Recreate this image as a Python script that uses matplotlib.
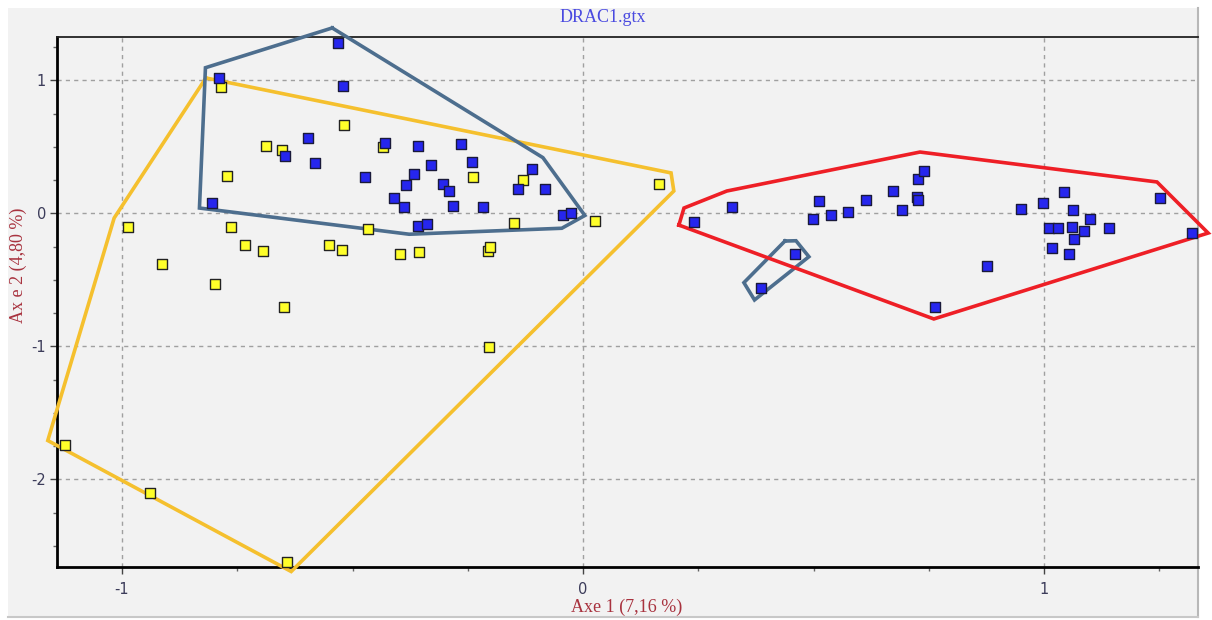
import matplotlib.pyplot as plt
from matplotlib.patches import Rectangle
from matplotlib.ticker import MultipleLocator

plt.rcParams['axes.unicode_minus'] = False

# scores on the first two axes, group A (yellow)
yellow_x = [-0.785, -0.519, -0.688, -0.652, -0.433, -0.773, -0.764, -0.733, -0.694, -0.551,
            -0.522, -0.466, -0.398, -0.356, -0.238, -0.131, -0.150, 0.026, -0.207, -0.202,
            0.165, -0.205, -0.649, -0.799, -0.913, -0.988, -1.124, -0.939, -0.642]
yellow_y = [0.949, 0.668, 0.510, 0.480, 0.502, 0.284, -0.099, -0.237, -0.282, -0.237,
            -0.272, -0.114, -0.302, -0.292, 0.274, 0.250, -0.069, -0.054, -0.282, -0.250,
            0.222, -1.006, -0.701, -0.530, -0.382, -0.102, -1.743, -2.104, -2.623]

# group B (blue)
blue_x = [-0.531, -0.790, -0.521, -0.597, -0.430, -0.646, -0.581, -0.473, -0.805, -0.411,
          -0.359, -0.265, -0.330, -0.241, -0.366, -0.385, -0.304, -0.291, -0.111, -0.140,
          -0.082, -0.388, -0.281, -0.218, -0.359, -0.339, -0.044, -0.026,
          0.241, 0.323, 0.512, 0.499, 0.538, 0.574, 0.613, 0.672, 0.691, 0.724,
          0.727, 0.727, 0.740, 0.460, 0.385, 0.764, 1.043, 0.998, 0.949, 1.063,
          1.099, 1.011, 1.030, 1.060, 1.086, 1.064, 1.142, 1.018, 1.054, 0.877,
          1.252, 1.322]
blue_y = [1.280, 1.021, 0.961, 0.565, 0.532, 0.432, 0.377, 0.272, 0.081, 0.114,
          0.510, 0.523, 0.365, 0.387, 0.295, 0.217, 0.220, 0.169, 0.332, 0.182,
          0.182, 0.047, 0.059, 0.047, -0.092, -0.079, -0.009, 0.004,
          -0.066, 0.047, 0.092, -0.044, -0.011, 0.014, 0.102, 0.171, 0.024, 0.126,
          0.102, 0.259, 0.320, -0.305, -0.562, -0.701, 0.159, 0.081, 0.034, 0.024,
          -0.044, -0.111, -0.111, -0.099, -0.134, -0.192, -0.111, -0.259, -0.305, -0.395,
          0.114, -0.147]

# hand-drawn envelopes
hull_yellow_x = [-0.818, 0.191, 0.197, -0.633, -1.161, -1.017]
hull_yellow_y = [1.019, 0.305, 0.169, -2.692, -1.707, -0.034]
hull_blue_x = [-0.544, -0.819, -0.832, -0.377, -0.046, 0.004, -0.087]
hull_blue_y = [1.395, 1.096, 0.041, -0.156, -0.111, -0.015, 0.420]
hull_small_x = [0.438, 0.462, 0.490, 0.372, 0.349]
hull_small_y = [-0.207, -0.205, -0.325, -0.650, -0.520]
hull_red_x = [0.208, 0.219, 0.312, 0.731, 1.245, 1.356, 0.761]
hull_red_y = [-0.087, 0.041, 0.169, 0.462, 0.237, -0.147, -0.793]

title = 'DRAC1.gtx'
xlabel = 'Axe 1 (7,16 %)'
ylabel = 'Ax e 2 (4,80 %)'

W, H = 1212, 620
fig = plt.figure(figsize=(W / 100, H / 100), dpi=100, facecolor='white')

# grey panel behind the plot
fig.add_artist(Rectangle((8 / W, 3 / H), 1190 / W, 609 / H, transform=fig.transFigure,
                         facecolor='#f2f2f2', edgecolor='none', zorder=-10))
fig.add_artist(plt.Line2D([1198 / W, 1198 / W], [3 / H, 612 / H], transform=fig.transFigure,
                          color='#b8b8b8', lw=1.5, zorder=-5))
fig.add_artist(plt.Line2D([8 / W, 1198 / W], [3 / H, 3 / H], transform=fig.transFigure,
                          color='#c8c8c8', lw=1.5, zorder=-5))

ax = fig.add_axes([57 / W, 53 / H, 1141 / W, 530 / H])
ax.set_facecolor('#f2f2f2')
ax.set_xlim(-1.141, 1.334)
ax.set_ylim(-2.658, 1.327)

ax.xaxis.set_major_locator(MultipleLocator(1))
ax.yaxis.set_major_locator(MultipleLocator(1))
ax.xaxis.set_minor_locator(MultipleLocator(0.25))
ax.yaxis.set_minor_locator(MultipleLocator(0.25))
ax.grid(True, which='major', color='#a0a0a0', lw=1, ls=(0, (3, 3)))
ax.set_axisbelow(True)

ax.tick_params(which='major', direction='out', length=5, width=1, color='#444444',
               labelcolor='#3c3c5a', labelsize=10.5)
ax.tick_params(which='minor', direction='out', length=3, width=1, color='#666666')
ax.tick_params(axis='x', pad=6)
ax.tick_params(axis='y', pad=3)

for side in ['left', 'bottom']:
    ax.spines[side].set_linewidth(2)
    ax.spines[side].set_color('black')
ax.spines['top'].set_linewidth(1.3)
ax.spines['top'].set_color('#222222')
ax.spines['right'].set_linewidth(1.5)
ax.spines['right'].set_color('#b0b0b0')

# envelopes
hull_style = dict(lw=2.6, solid_joinstyle='miter', clip_on=False, zorder=3)
ax.plot(hull_yellow_x + hull_yellow_x[:1], hull_yellow_y + hull_yellow_y[:1],
        color='#f5c02e', **hull_style)
ax.plot(hull_blue_x + hull_blue_x[:1], hull_blue_y + hull_blue_y[:1],
        color='#4d6e8e', **hull_style)
ax.plot(hull_small_x + hull_small_x[:1], hull_small_y + hull_small_y[:1],
        color='#4d6e8e', **hull_style)
ax.plot(hull_red_x + hull_red_x[:1], hull_red_y + hull_red_y[:1],
        color='#ee1f26', **hull_style)

# points
ax.scatter(yellow_x, yellow_y, s=52, marker='s', facecolor='#ffff2a', edgecolor='#222222',
           lw=1, zorder=4, clip_on=False)
ax.scatter(blue_x, blue_y, s=52, marker='s', facecolor='#2626ee', edgecolor='#1a1a3a',
           lw=1, zorder=5, clip_on=False)

serif = ['Liberation Serif', 'DejaVu Serif']
fig.text(603 / W, 1 - 18 / H, title, ha='center', va='center', color='#4a4ae0',
         fontsize=13, family=serif)
fig.text(627 / W, 1 - 607 / H, xlabel, ha='center', va='center', color='#a8323e',
         fontsize=13, family=serif)
fig.text(18 / W, 1 - 265 / H, ylabel, ha='center', va='center', rotation=90,
         color='#a8323e', fontsize=13, family=serif)

fig.savefig('out.png', dpi=100, facecolor='white')
